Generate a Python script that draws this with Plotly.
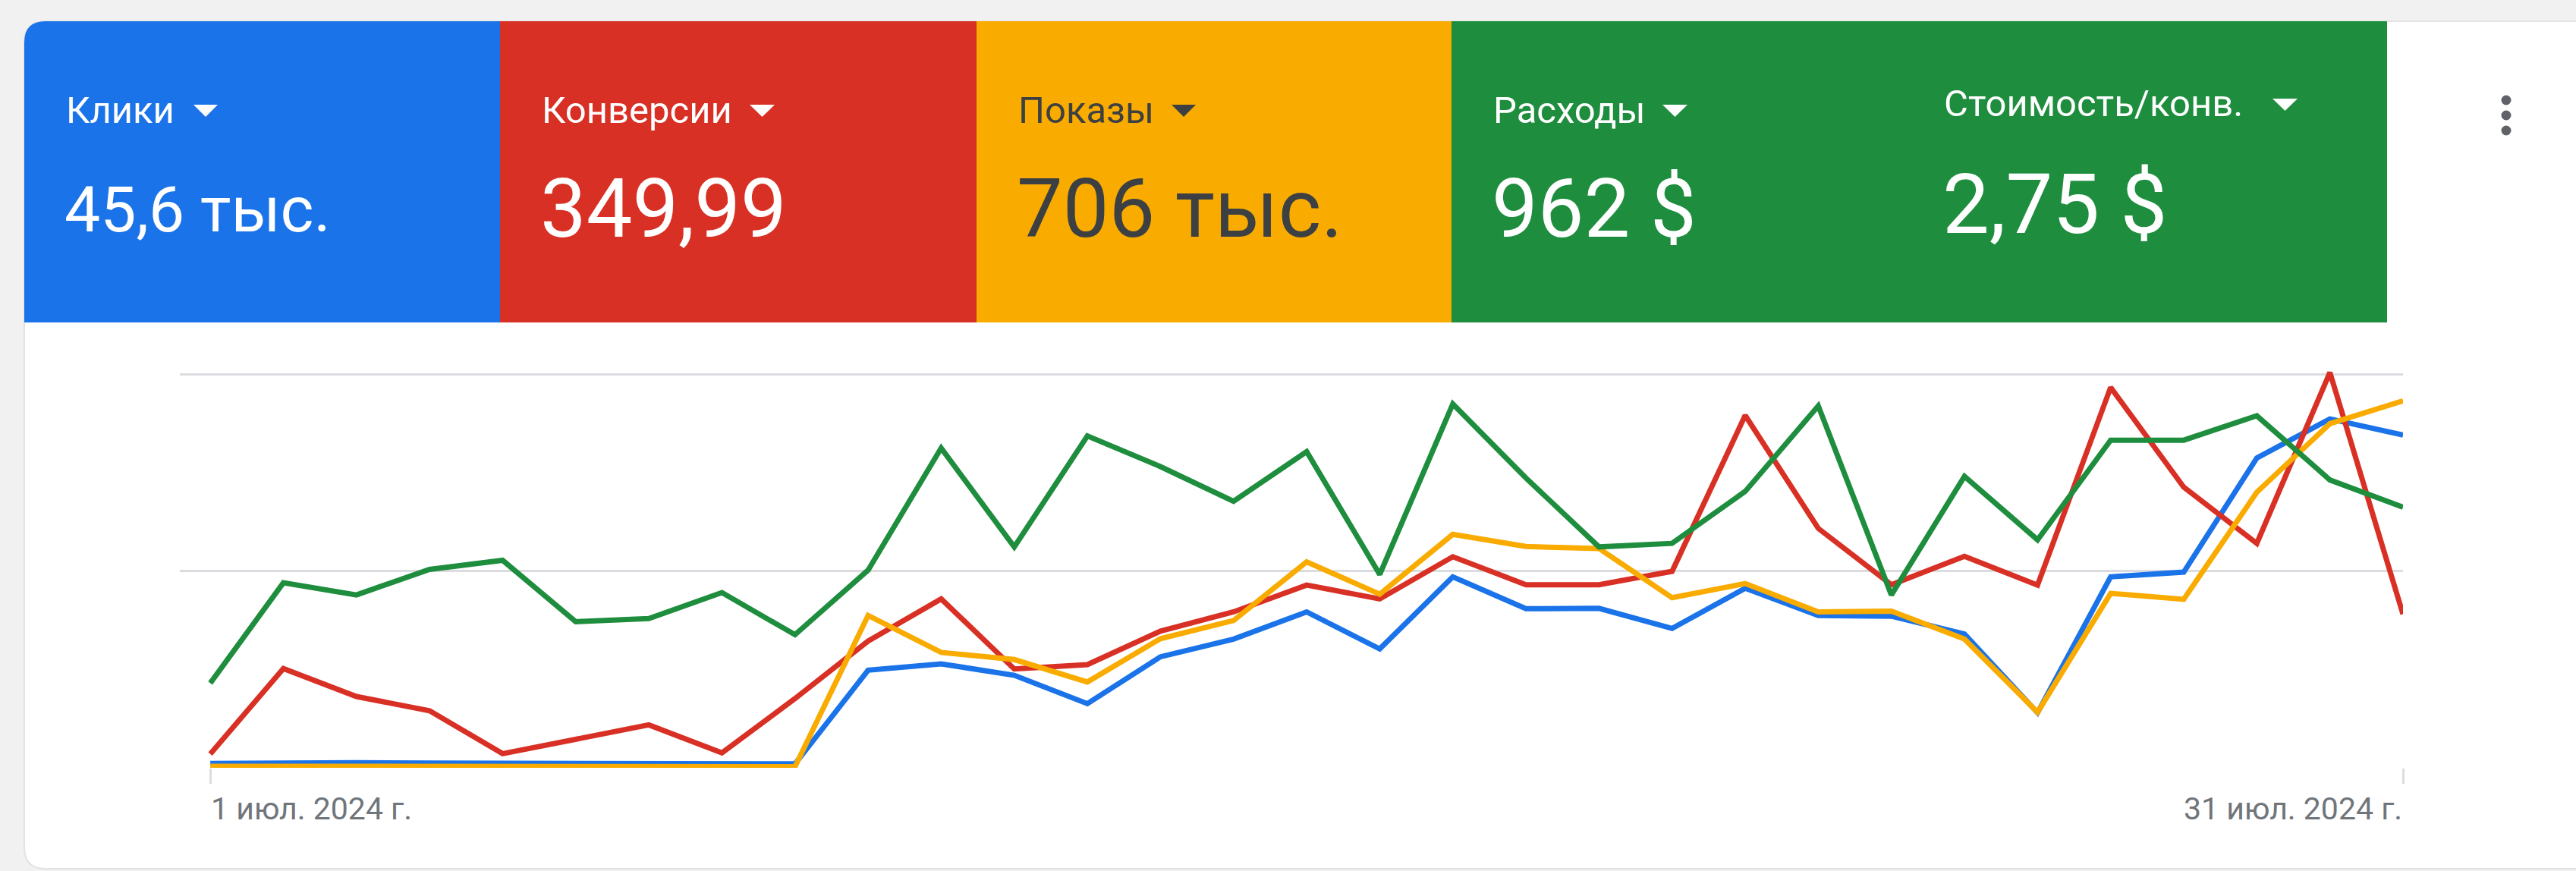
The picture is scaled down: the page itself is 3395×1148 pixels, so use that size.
import pandas as pd
import plotly.graph_objects as go

# ---------------- data ----------------
dates = pd.date_range("2024-07-01", "2024-07-31", freq="D")

# Relative daily level of each metric (top gridline = 100, no y-axis labels in source)
clicks = [1.1, 1.3, 1.3, 1.2, 1.2, 1.0, 1.0, 1.0, 1.0, 24.8, 26.4, 23.5, 16.3, 28.2, 32.7, 39.6,
          30.2, 48.5, 40.4, 40.5, 35.4, 45.6, 38.7, 38.5, 34.0, 14.0, 48.5, 49.7, 78.7, 88.6, 84.5]
conversions = [3.5, 25.2, 18.1, 14.5, 3.6, 7.2, 10.9, 3.8, 17.6, 32.2, 42.9, 25.1, 26.2, 34.7, 39.6, 46.4,
               42.9, 53.6, 46.5, 46.5, 49.9, 89.5, 60.8, 46.5, 53.7, 46.4, 96.6, 71.3, 57.0, 100.4, 39.0]
impressions = [0.4, 0.4, 0.4, 0.4, 0.4, 0.3, 0.3, 0.3, 0.3, 38.7, 29.3, 27.5, 21.8, 32.8, 37.4, 52.3,
               44.1, 59.3, 56.2, 55.7, 43.2, 46.8, 39.6, 39.8, 32.7, 14.1, 44.3, 42.8, 70.0, 87.4, 93.2]
cost = [21.5, 47.0, 43.9, 50.4, 52.7, 37.1, 37.9, 44.5, 33.8, 50.2, 81.2, 56.1, 84.3, 76.5, 67.7, 80.3,
        49.1, 92.4, 73.6, 56.1, 57.0, 70.2, 91.9, 43.9, 74.0, 57.9, 83.2, 83.2, 89.4, 73.1, 66.2]

tile_labels = ["Клики", "Конверсии", "Показы", "Расходы", "Стоимость/конв."]
tile_values = ["45,6 тыс.", "349,99", "706 тыс.", "962 $", "2,75 $"]
x_tick_labels = ["1 июл. 2024 г.", "31 июл. 2024 г."]
gridlines = [0, 50, 100]

# ---------------- styling ----------------
W, H = 3395, 1148
BLUE, RED, YELLOW, GREEN = "#1a73e8", "#d93025", "#f9ab00", "#1e8e3e"
DARK = "#3c4043"
GRID = "#dadce0"


def px(x):
    return x / W


def py(y):
    return 1 - y / H


def rrect(x0, y0, x1, y1, r_tl=0.0, r_bl=0.0):
    pts = []
    pts.append(f"M{px(x0)},{py(y0 + r_tl)}")
    if r_tl:
        pts.append(f"Q{px(x0)},{py(y0)} {px(x0 + r_tl)},{py(y0)}")
    pts.append(f"L{px(x1)},{py(y0)}")
    pts.append(f"L{px(x1)},{py(y1)}")
    pts.append(f"L{px(x0 + r_bl)},{py(y1)}")
    if r_bl:
        pts.append(f"Q{px(x0)},{py(y1)} {px(x0)},{py(y1 - r_bl)}")
    pts.append("Z")
    return " ".join(pts)


def tri(xl, xr, yt, yb):
    xm = (xl + xr) / 2
    return f"M{px(xl)},{py(yt)} L{px(xr)},{py(yt)} L{px(xm)},{py(yb)} Z"


fig = go.Figure()

series = [
    ("Клики", clicks, BLUE),
    ("Конверсии", conversions, RED),
    ("Показы", impressions, YELLOW),
    ("Расходы", cost, GREEN),
]
for name, vals, col in series:
    fig.add_trace(go.Scatter(x=dates, y=vals, mode="lines", name=name,
                             line=dict(color=col, width=7), showlegend=False,
                             hoverinfo="x+y+name"))

shapes = []
# card
shapes.append(dict(type="path", xref="paper", yref="paper", layer="below",
                   path=rrect(32, 28, W + 20, 1145, 28, 28),
                   fillcolor="white", line=dict(color="#e3e3e3", width=2)))
# tiles
tiles = [(32, 659, BLUE, 28), (659, 1287, RED, 0), (1287, 1913, YELLOW, 0), (1913, 2523, GREEN, 0),
         (2523, 3146, GREEN, 0)]
for x0, x1, col, r in tiles:
    shapes.append(dict(type="path", xref="paper", yref="paper", layer="below",
                       path=rrect(x0, 28, x1, 425, r, 0), fillcolor=col, line=dict(width=0)))
# dropdown triangles
tri_pos = [(255, 287, 138, 154, "white"), (988, 1021, 138, 154, "white"),
           (1544, 1576, 138, 154, DARK), (2191, 2224, 138, 154, "white"),
           (2995, 3028, 130, 146, "white")]
for xl, xr, yt, yb, col in tri_pos:
    shapes.append(dict(type="path", xref="paper", yref="paper", layer="above",
                       path=tri(xl, xr, yt, yb), fillcolor=col, line=dict(width=0)))
# kebab menu dots
for cy in (132, 152, 172):
    r = 6.5
    shapes.append(dict(type="circle", xref="paper", yref="paper", layer="above",
                       x0=px(3303 - r), x1=px(3303 + r), y0=py(cy + r), y1=py(cy - r),
                       fillcolor="#5f6368", line=dict(width=0)))

annotations = []
label_x = [86, 713, 1341, 1967, 2561]
label_y = [146, 146, 146, 146, 136]
value_y = [277, 275, 275, 275, 269]
value_size = [84, 108, 108, 108, 110]
text_cols = ["white", "white", DARK, "white", "white"]
for i in range(5):
    annotations.append(dict(xref="paper", yref="paper", x=px(label_x[i]), y=py(label_y[i]),
                            xanchor="left", yanchor="middle", showarrow=False,
                            text=tile_labels[i], borderpad=0,
                            font=dict(family="Roboto", size=49, color=text_cols[i])))
    annotations.append(dict(xref="paper", yref="paper", x=px(label_x[i] - 2), y=py(value_y[i]),
                            xanchor="left", yanchor="middle", showarrow=False,
                            text=tile_values[i], borderpad=0,
                            font=dict(family="Roboto", size=value_size[i], color=text_cols[i])))

annotations.append(dict(xref="x", yref="paper", x=dates[0], y=py(1066), xanchor="left",
                        yanchor="middle", showarrow=False, text=x_tick_labels[0], borderpad=0,
                        font=dict(family="Roboto", size=41, color="#70757a")))
annotations.append(dict(xref="x", yref="paper", x=dates[-1], y=py(1066), xanchor="right",
                        yanchor="middle", showarrow=False, text=x_tick_labels[1], borderpad=0,
                        font=dict(family="Roboto", size=41, color="#70757a")))

x_start = dates[0] - pd.Timedelta(hours=10)
fig.update_layout(
    width=W, height=H,
    margin=dict(l=0, r=0, t=0, b=0),
    paper_bgcolor="#f1f1f1",
    plot_bgcolor="rgba(0,0,0,0)",
    shapes=shapes,
    annotations=annotations,
    xaxis=dict(domain=[px(237), px(3167)], range=[x_start, dates[-1]], type="date",
               showgrid=False, zeroline=False, showline=False,
               tickvals=[dates[0], dates[-1]], ticks="outside", ticklen=20, tickwidth=3,
               tickcolor=GRID, showticklabels=False, fixedrange=True),
    yaxis=dict(domain=[py(1012), py(440)], range=[0, 100 * (1012 - 440) / 519],
               tickvals=gridlines, showgrid=True, gridcolor=GRID, gridwidth=3,
               zeroline=False, showline=False, showticklabels=False, fixedrange=True),
    font=dict(family="Roboto"),
)

fig.write_html("out.html", config={"displayModeBar": False},
               post_script="document.body.style.margin='0px';document.body.style.overflow='hidden';")
